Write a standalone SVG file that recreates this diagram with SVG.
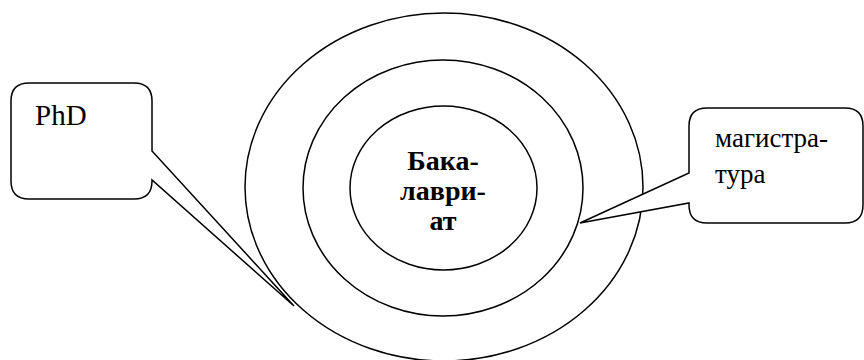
<svg xmlns="http://www.w3.org/2000/svg" width="864" height="360" viewBox="0 0 864 360">
<style>
.s{fill:none;stroke:#000;stroke-width:1.5}
.cb{fill:#fff;stroke:#000;stroke-width:1.5;stroke-linejoin:miter}
.t{fill:#000}
</style>
<rect width="864" height="360" fill="#fff"/>
<g id="outer"><ellipse class="s" cx="444" cy="187" rx="199" ry="174"/></g>
<g id="middle"><ellipse class="s" cx="443" cy="188" rx="140" ry="128"/></g>
<g id="inner"><ellipse class="s" cx="443.5" cy="188" rx="93.5" ry="82"/>
<text class="t" font-family="'Liberation Serif', 'DejaVu Serif', serif" font-weight="bold" font-size="28" text-anchor="middle"><tspan x="443" y="170">Бака-</tspan><tspan x="443" y="200">лаври-</tspan><tspan x="443" y="230">ат</tspan></text></g>
<g id="connectors">
<g id="phd"><path class="cb" d="M29,83 H134 Q152,83 152,101 V151 L294,306 L152,180 V181 Q152,199 134,199 H29 Q11,199 11,181 V101 Q11,83 29,83 Z"/>
<text class="t" font-family="'Liberation Serif', 'DejaVu Serif', serif" font-size="29" x="35" y="125">PhD</text></g>
<g id="mag"><path class="cb" d="M707,108 H845 Q863,108 863,126 V205 Q863,223 845,223 H707 Q689,223 689,205 V203 L580,223 L689,173 V126 Q689,108 707,108 Z"/>
<text class="t" font-family="'Liberation Serif', 'DejaVu Serif', serif" font-size="27"><tspan x="715" y="147">магистра-</tspan><tspan x="715" y="183">тура</tspan></text></g>
</g>
</svg>
